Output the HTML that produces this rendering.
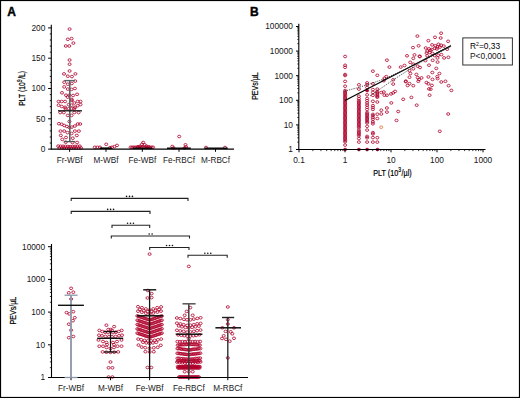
<!DOCTYPE html>
<html><head><meta charset="utf-8"><style>
html,body{margin:0;padding:0;background:#fff;overflow:hidden;width:520px;height:398px;}
svg{display:block;font-family:"Liberation Sans", sans-serif;}
</style></head><body>
<svg width="520" height="398" viewBox="0 0 520 398">
<rect x="0" y="0" width="520" height="398" fill="#fff"/>
<g fill="none" stroke="#b0002a" stroke-width="0.95" stroke-opacity="0.85"><ellipse cx="69.6" cy="29.1" rx="1.55" ry="1.3"/><ellipse cx="67.8" cy="39.3" rx="1.55" ry="1.3"/><ellipse cx="71.6" cy="38.6" rx="1.55" ry="1.3"/><ellipse cx="65.8" cy="46.0" rx="1.55" ry="1.3"/><ellipse cx="69.3" cy="46.0" rx="1.55" ry="1.3"/><ellipse cx="73.4" cy="43.1" rx="1.55" ry="1.3"/><ellipse cx="69.6" cy="60.0" rx="1.55" ry="1.3"/><ellipse cx="69.6" cy="64.2" rx="1.55" ry="1.3"/><ellipse cx="69.6" cy="71.0" rx="1.55" ry="1.3"/><ellipse cx="64.0" cy="73.9" rx="1.55" ry="1.3"/><ellipse cx="67.8" cy="76.2" rx="1.55" ry="1.3"/><ellipse cx="71.9" cy="76.6" rx="1.55" ry="1.3"/><ellipse cx="75.4" cy="73.9" rx="1.55" ry="1.3"/><ellipse cx="64.2" cy="82.2" rx="1.55" ry="1.3"/><ellipse cx="75.2" cy="81.1" rx="1.55" ry="1.3"/><ellipse cx="67.8" cy="84.2" rx="1.55" ry="1.3"/><ellipse cx="71.8" cy="83.5" rx="1.55" ry="1.3"/><ellipse cx="64.2" cy="86.9" rx="1.55" ry="1.3"/><ellipse cx="67.8" cy="89.1" rx="1.55" ry="1.3"/><ellipse cx="71.5" cy="89.4" rx="1.55" ry="1.3"/><ellipse cx="74.9" cy="88.5" rx="1.55" ry="1.3"/><ellipse cx="62.0" cy="92.8" rx="1.55" ry="1.3"/><ellipse cx="66.0" cy="95.2" rx="1.55" ry="1.3"/><ellipse cx="67.7" cy="97.1" rx="1.55" ry="1.3"/><ellipse cx="69.4" cy="95.2" rx="1.55" ry="1.3"/><ellipse cx="73.1" cy="95.5" rx="1.55" ry="1.3"/><ellipse cx="77.1" cy="94.3" rx="1.55" ry="1.3"/><ellipse cx="71.8" cy="99.5" rx="1.55" ry="1.3"/><ellipse cx="58.6" cy="101.5" rx="1.55" ry="1.3"/><ellipse cx="61.7" cy="101.5" rx="1.55" ry="1.3"/><ellipse cx="65.1" cy="101.5" rx="1.55" ry="1.3"/><ellipse cx="71.8" cy="100.4" rx="1.55" ry="1.3"/><ellipse cx="74.3" cy="103.0" rx="1.55" ry="1.3"/><ellipse cx="77.7" cy="101.5" rx="1.55" ry="1.3"/><ellipse cx="80.5" cy="101.5" rx="1.55" ry="1.3"/><ellipse cx="58.6" cy="105.2" rx="1.55" ry="1.3"/><ellipse cx="61.7" cy="106.5" rx="1.55" ry="1.3"/><ellipse cx="65.1" cy="107.3" rx="1.55" ry="1.3"/><ellipse cx="68.8" cy="104.6" rx="1.55" ry="1.3"/><ellipse cx="71.5" cy="105.2" rx="1.55" ry="1.3"/><ellipse cx="75.0" cy="107.3" rx="1.55" ry="1.3"/><ellipse cx="77.7" cy="105.7" rx="1.55" ry="1.3"/><ellipse cx="80.5" cy="104.6" rx="1.55" ry="1.3"/><ellipse cx="65.4" cy="108.6" rx="1.55" ry="1.3"/><ellipse cx="68.8" cy="108.6" rx="1.55" ry="1.3"/><ellipse cx="71.5" cy="108.6" rx="1.55" ry="1.3"/><ellipse cx="74.3" cy="108.6" rx="1.55" ry="1.3"/><ellipse cx="60.2" cy="112.6" rx="1.55" ry="1.3"/><ellipse cx="63.8" cy="112.6" rx="1.55" ry="1.3"/><ellipse cx="74.3" cy="112.6" rx="1.55" ry="1.3"/><ellipse cx="78.6" cy="112.6" rx="1.55" ry="1.3"/><ellipse cx="67.8" cy="115.4" rx="1.55" ry="1.3"/><ellipse cx="71.5" cy="115.4" rx="1.55" ry="1.3"/><ellipse cx="69.4" cy="121.5" rx="1.55" ry="1.3"/><ellipse cx="58.9" cy="123.7" rx="1.55" ry="1.3"/><ellipse cx="61.7" cy="124.3" rx="1.55" ry="1.3"/><ellipse cx="64.2" cy="125.5" rx="1.55" ry="1.3"/><ellipse cx="66.9" cy="126.5" rx="1.55" ry="1.3"/><ellipse cx="69.4" cy="127.4" rx="1.55" ry="1.3"/><ellipse cx="71.8" cy="127.1" rx="1.55" ry="1.3"/><ellipse cx="74.9" cy="126.0" rx="1.55" ry="1.3"/><ellipse cx="77.7" cy="124.0" rx="1.55" ry="1.3"/><ellipse cx="80.2" cy="124.0" rx="1.55" ry="1.3"/><ellipse cx="60.5" cy="131.1" rx="1.55" ry="1.3"/><ellipse cx="64.2" cy="131.1" rx="1.55" ry="1.3"/><ellipse cx="67.5" cy="132.6" rx="1.55" ry="1.3"/><ellipse cx="71.5" cy="133.5" rx="1.55" ry="1.3"/><ellipse cx="74.9" cy="131.1" rx="1.55" ry="1.3"/><ellipse cx="78.9" cy="131.1" rx="1.55" ry="1.3"/><ellipse cx="60.8" cy="135.4" rx="1.55" ry="1.3"/><ellipse cx="66.0" cy="137.5" rx="1.55" ry="1.3"/><ellipse cx="72.8" cy="138.2" rx="1.55" ry="1.3"/><ellipse cx="76.8" cy="135.4" rx="1.55" ry="1.3"/><ellipse cx="62.3" cy="139.4" rx="1.55" ry="1.3"/><ellipse cx="65.7" cy="142.2" rx="1.55" ry="1.3"/><ellipse cx="72.5" cy="142.5" rx="1.55" ry="1.3"/><ellipse cx="77.1" cy="142.5" rx="1.55" ry="1.3"/><ellipse cx="58.2" cy="146.1" rx="1.55" ry="1.3"/><ellipse cx="59.4" cy="148.0" rx="1.55" ry="1.3"/><ellipse cx="60.6" cy="146.2" rx="1.55" ry="1.3"/><ellipse cx="61.8" cy="148.0" rx="1.55" ry="1.3"/><ellipse cx="63.0" cy="146.3" rx="1.55" ry="1.3"/><ellipse cx="64.2" cy="148.0" rx="1.55" ry="1.3"/><ellipse cx="65.4" cy="146.4" rx="1.55" ry="1.3"/><ellipse cx="66.6" cy="148.0" rx="1.55" ry="1.3"/><ellipse cx="67.8" cy="146.5" rx="1.55" ry="1.3"/><ellipse cx="69.0" cy="148.0" rx="1.55" ry="1.3"/><ellipse cx="70.2" cy="146.6" rx="1.55" ry="1.3"/><ellipse cx="71.4" cy="148.0" rx="1.55" ry="1.3"/><ellipse cx="72.6" cy="146.5" rx="1.55" ry="1.3"/><ellipse cx="73.8" cy="148.0" rx="1.55" ry="1.3"/><ellipse cx="75.0" cy="146.4" rx="1.55" ry="1.3"/><ellipse cx="76.2" cy="148.0" rx="1.55" ry="1.3"/><ellipse cx="77.4" cy="146.3" rx="1.55" ry="1.3"/><ellipse cx="78.6" cy="148.0" rx="1.55" ry="1.3"/><ellipse cx="79.8" cy="146.2" rx="1.55" ry="1.3"/><ellipse cx="81.0" cy="148.0" rx="1.55" ry="1.3"/><ellipse cx="94.8" cy="147.3" rx="1.55" ry="1.3"/><ellipse cx="97.4" cy="147.3" rx="1.55" ry="1.3"/><ellipse cx="100.0" cy="147.3" rx="1.55" ry="1.3"/><ellipse cx="106.2" cy="144.3" rx="1.55" ry="1.3"/><ellipse cx="112.0" cy="147.3" rx="1.55" ry="1.3"/><ellipse cx="114.5" cy="146.6" rx="1.55" ry="1.3"/><ellipse cx="117.0" cy="145.4" rx="1.55" ry="1.3"/><ellipse cx="110.0" cy="147.6" rx="1.55" ry="1.3"/><ellipse cx="130.6" cy="147.3" rx="1.55" ry="1.3"/><ellipse cx="132.1" cy="147.3" rx="1.55" ry="1.3"/><ellipse cx="133.6" cy="147.3" rx="1.55" ry="1.3"/><ellipse cx="135.1" cy="147.3" rx="1.55" ry="1.3"/><ellipse cx="136.6" cy="147.3" rx="1.55" ry="1.3"/><ellipse cx="138.1" cy="147.3" rx="1.55" ry="1.3"/><ellipse cx="139.6" cy="147.3" rx="1.55" ry="1.3"/><ellipse cx="141.1" cy="147.3" rx="1.55" ry="1.3"/><ellipse cx="142.6" cy="147.3" rx="1.55" ry="1.3"/><ellipse cx="144.1" cy="147.3" rx="1.55" ry="1.3"/><ellipse cx="145.6" cy="147.3" rx="1.55" ry="1.3"/><ellipse cx="147.1" cy="147.3" rx="1.55" ry="1.3"/><ellipse cx="148.6" cy="147.3" rx="1.55" ry="1.3"/><ellipse cx="150.1" cy="147.3" rx="1.55" ry="1.3"/><ellipse cx="151.6" cy="147.3" rx="1.55" ry="1.3"/><ellipse cx="153.1" cy="147.3" rx="1.55" ry="1.3"/><ellipse cx="143.2" cy="142.5" rx="1.55" ry="1.3"/><ellipse cx="142.0" cy="144.3" rx="1.55" ry="1.3"/><ellipse cx="144.6" cy="144.8" rx="1.55" ry="1.3"/><ellipse cx="140.0" cy="146.3" rx="1.55" ry="1.3"/><ellipse cx="146.5" cy="146.2" rx="1.55" ry="1.3"/><ellipse cx="138.0" cy="146.8" rx="1.55" ry="1.3"/><ellipse cx="148.5" cy="146.8" rx="1.55" ry="1.3"/><ellipse cx="179.2" cy="136.5" rx="1.55" ry="1.3"/><ellipse cx="172.3" cy="146.5" rx="1.55" ry="1.3"/><ellipse cx="173.5" cy="148.0" rx="1.55" ry="1.3"/><ellipse cx="184.5" cy="148.0" rx="1.55" ry="1.3"/><ellipse cx="185.5" cy="144.8" rx="1.55" ry="1.3"/><ellipse cx="186.0" cy="147.0" rx="1.55" ry="1.3"/><ellipse cx="206.0" cy="147.5" rx="1.55" ry="1.3"/><ellipse cx="225.0" cy="147.5" rx="1.55" ry="1.3"/><ellipse cx="417.4" cy="36.1" rx="1.55" ry="1.3"/><ellipse cx="413.0" cy="47.6" rx="1.55" ry="1.3"/><ellipse cx="418.6" cy="45.8" rx="1.55" ry="1.3"/><ellipse cx="407.0" cy="55.8" rx="1.55" ry="1.3"/><ellipse cx="414.5" cy="54.9" rx="1.55" ry="1.3"/><ellipse cx="419.6" cy="56.2" rx="1.55" ry="1.3"/><ellipse cx="413.3" cy="58.3" rx="1.55" ry="1.3"/><ellipse cx="386.9" cy="60.2" rx="1.55" ry="1.3"/><ellipse cx="410.2" cy="62.3" rx="1.55" ry="1.3"/><ellipse cx="413.3" cy="64.2" rx="1.55" ry="1.3"/><ellipse cx="429.0" cy="65.2" rx="1.55" ry="1.3"/><ellipse cx="389.4" cy="67.1" rx="1.55" ry="1.3"/><ellipse cx="400.7" cy="67.1" rx="1.55" ry="1.3"/><ellipse cx="404.5" cy="65.5" rx="1.55" ry="1.3"/><ellipse cx="417.7" cy="66.2" rx="1.55" ry="1.3"/><ellipse cx="420.0" cy="67.5" rx="1.55" ry="1.3"/><ellipse cx="441.1" cy="33.2" rx="1.55" ry="1.3"/><ellipse cx="435.0" cy="37.3" rx="1.55" ry="1.3"/><ellipse cx="440.7" cy="38.0" rx="1.55" ry="1.3"/><ellipse cx="437.6" cy="62.1" rx="1.55" ry="1.3"/><ellipse cx="436.3" cy="68.4" rx="1.55" ry="1.3"/><ellipse cx="409.5" cy="70.7" rx="1.55" ry="1.3"/><ellipse cx="413.3" cy="68.8" rx="1.55" ry="1.3"/><ellipse cx="410.4" cy="73.5" rx="1.55" ry="1.3"/><ellipse cx="416.4" cy="74.4" rx="1.55" ry="1.3"/><ellipse cx="409.5" cy="77.2" rx="1.55" ry="1.3"/><ellipse cx="417.7" cy="77.6" rx="1.55" ry="1.3"/><ellipse cx="421.5" cy="77.9" rx="1.55" ry="1.3"/><ellipse cx="419.0" cy="79.4" rx="1.55" ry="1.3"/><ellipse cx="418.3" cy="81.3" rx="1.55" ry="1.3"/><ellipse cx="428.4" cy="76.9" rx="1.55" ry="1.3"/><ellipse cx="426.5" cy="82.6" rx="1.55" ry="1.3"/><ellipse cx="428.4" cy="83.8" rx="1.55" ry="1.3"/><ellipse cx="384.4" cy="78.2" rx="1.55" ry="1.3"/><ellipse cx="386.3" cy="76.6" rx="1.55" ry="1.3"/><ellipse cx="383.8" cy="80.7" rx="1.55" ry="1.3"/><ellipse cx="393.2" cy="79.8" rx="1.55" ry="1.3"/><ellipse cx="393.2" cy="84.1" rx="1.55" ry="1.3"/><ellipse cx="405.8" cy="81.1" rx="1.55" ry="1.3"/><ellipse cx="409.5" cy="83.6" rx="1.55" ry="1.3"/><ellipse cx="407.6" cy="85.5" rx="1.55" ry="1.3"/><ellipse cx="413.3" cy="85.7" rx="1.55" ry="1.3"/><ellipse cx="429.0" cy="88.9" rx="1.55" ry="1.3"/><ellipse cx="383.8" cy="92.0" rx="1.55" ry="1.3"/><ellipse cx="384.4" cy="95.2" rx="1.55" ry="1.3"/><ellipse cx="386.9" cy="95.2" rx="1.55" ry="1.3"/><ellipse cx="391.0" cy="93.9" rx="1.55" ry="1.3"/><ellipse cx="393.2" cy="92.9" rx="1.55" ry="1.3"/><ellipse cx="395.1" cy="91.4" rx="1.55" ry="1.3"/><ellipse cx="411.4" cy="97.4" rx="1.55" ry="1.3"/><ellipse cx="403.2" cy="99.3" rx="1.55" ry="1.3"/><ellipse cx="429.6" cy="95.2" rx="1.55" ry="1.3"/><ellipse cx="391.3" cy="102.9" rx="1.55" ry="1.3"/><ellipse cx="416.7" cy="105.2" rx="1.55" ry="1.3"/><ellipse cx="386.9" cy="108.0" rx="1.55" ry="1.3"/><ellipse cx="381.3" cy="110.2" rx="1.55" ry="1.3"/><ellipse cx="386.9" cy="112.1" rx="1.55" ry="1.3"/><ellipse cx="398.2" cy="111.5" rx="1.55" ry="1.3"/><ellipse cx="381.3" cy="114.0" rx="1.55" ry="1.3"/><ellipse cx="432.3" cy="72.5" rx="1.55" ry="1.3"/><ellipse cx="439.4" cy="73.5" rx="1.55" ry="1.3"/><ellipse cx="437.3" cy="76.6" rx="1.55" ry="1.3"/><ellipse cx="437.6" cy="78.6" rx="1.55" ry="1.3"/><ellipse cx="432.5" cy="79.4" rx="1.55" ry="1.3"/><ellipse cx="441.3" cy="82.0" rx="1.55" ry="1.3"/><ellipse cx="445.4" cy="81.3" rx="1.55" ry="1.3"/><ellipse cx="431.9" cy="85.4" rx="1.55" ry="1.3"/><ellipse cx="448.6" cy="85.7" rx="1.55" ry="1.3"/><ellipse cx="430.7" cy="89.2" rx="1.55" ry="1.3"/><ellipse cx="451.4" cy="90.4" rx="1.55" ry="1.3"/><ellipse cx="448.2" cy="114.0" rx="1.55" ry="1.3"/><ellipse cx="377.3" cy="114.2" rx="1.55" ry="1.3"/><ellipse cx="377.3" cy="118.5" rx="1.55" ry="1.3"/><ellipse cx="396.5" cy="120.4" rx="1.55" ry="1.3"/><ellipse cx="439.8" cy="131.3" rx="1.55" ry="1.3"/><ellipse cx="377.3" cy="137.7" rx="1.55" ry="1.3"/><ellipse cx="377.3" cy="142.1" rx="1.55" ry="1.3"/><ellipse cx="381.4" cy="92.5" rx="1.55" ry="1.3"/><ellipse cx="428.4" cy="40.7" rx="1.55" ry="1.3"/><ellipse cx="448.1" cy="41.3" rx="1.55" ry="1.3"/><ellipse cx="432.1" cy="44.9" rx="1.55" ry="1.3"/><ellipse cx="435.4" cy="45.8" rx="1.55" ry="1.3"/><ellipse cx="438.4" cy="44.3" rx="1.55" ry="1.3"/><ellipse cx="441.1" cy="45.2" rx="1.55" ry="1.3"/><ellipse cx="443.8" cy="46.1" rx="1.55" ry="1.3"/><ellipse cx="437.5" cy="46.8" rx="1.55" ry="1.3"/><ellipse cx="439.9" cy="47.1" rx="1.55" ry="1.3"/><ellipse cx="425.7" cy="48.0" rx="1.55" ry="1.3"/><ellipse cx="429.0" cy="48.9" rx="1.55" ry="1.3"/><ellipse cx="431.8" cy="49.5" rx="1.55" ry="1.3"/><ellipse cx="434.8" cy="48.3" rx="1.55" ry="1.3"/><ellipse cx="436.9" cy="48.9" rx="1.55" ry="1.3"/><ellipse cx="447.2" cy="49.2" rx="1.55" ry="1.3"/><ellipse cx="427.2" cy="51.0" rx="1.55" ry="1.3"/><ellipse cx="430.3" cy="50.4" rx="1.55" ry="1.3"/><ellipse cx="426.6" cy="53.1" rx="1.55" ry="1.3"/><ellipse cx="429.7" cy="52.5" rx="1.55" ry="1.3"/><ellipse cx="432.4" cy="53.4" rx="1.55" ry="1.3"/><ellipse cx="427.2" cy="55.8" rx="1.55" ry="1.3"/><ellipse cx="434.5" cy="55.5" rx="1.55" ry="1.3"/><ellipse cx="438.1" cy="55.2" rx="1.55" ry="1.3"/><ellipse cx="441.4" cy="54.6" rx="1.55" ry="1.3"/><ellipse cx="437.5" cy="57.9" rx="1.55" ry="1.3"/><ellipse cx="444.1" cy="57.9" rx="1.55" ry="1.3"/><ellipse cx="448.4" cy="57.3" rx="1.55" ry="1.3"/><ellipse cx="425.4" cy="60.6" rx="1.55" ry="1.3"/><ellipse cx="432.7" cy="60.3" rx="1.55" ry="1.3"/><ellipse cx="419.9" cy="56.6" rx="1.55" ry="1.3"/><ellipse cx="405.8" cy="81.7" rx="1.55" ry="1.3"/><ellipse cx="381.2" cy="127.2" rx="1.55" ry="1.3" stroke="#e07030"/><ellipse cx="345.1" cy="56.5" rx="1.55" ry="1.3"/><ellipse cx="345.1" cy="65.3" rx="1.55" ry="1.3"/><ellipse cx="345.1" cy="67.3" rx="1.55" ry="1.3"/><ellipse cx="345.1" cy="74.5" rx="1.55" ry="1.3"/><ellipse cx="345.1" cy="75.5" rx="1.55" ry="1.3"/><ellipse cx="345.1" cy="81.4" rx="1.55" ry="1.3"/><ellipse cx="345.1" cy="86.2" rx="1.55" ry="1.3"/><ellipse cx="345.1" cy="90.5" rx="1.55" ry="1.3"/><ellipse cx="345.1" cy="91.8" rx="1.55" ry="1.3"/><ellipse cx="345.1" cy="93.0" rx="1.55" ry="1.3"/><ellipse cx="345.1" cy="94.2" rx="1.55" ry="1.3"/><ellipse cx="345.1" cy="95.5" rx="1.55" ry="1.3"/><ellipse cx="345.1" cy="96.8" rx="1.55" ry="1.3"/><ellipse cx="345.1" cy="98.0" rx="1.55" ry="1.3"/><ellipse cx="345.1" cy="99.2" rx="1.55" ry="1.3"/><ellipse cx="345.1" cy="100.5" rx="1.55" ry="1.3"/><ellipse cx="345.1" cy="101.8" rx="1.55" ry="1.3"/><ellipse cx="345.1" cy="103.0" rx="1.55" ry="1.3"/><ellipse cx="345.1" cy="104.2" rx="1.55" ry="1.3"/><ellipse cx="345.1" cy="105.5" rx="1.55" ry="1.3"/><ellipse cx="345.1" cy="106.8" rx="1.55" ry="1.3"/><ellipse cx="345.1" cy="108.0" rx="1.55" ry="1.3"/><ellipse cx="345.1" cy="109.2" rx="1.55" ry="1.3"/><ellipse cx="345.1" cy="110.5" rx="1.55" ry="1.3"/><ellipse cx="345.1" cy="111.8" rx="1.55" ry="1.3"/><ellipse cx="345.1" cy="113.0" rx="1.55" ry="1.3"/><ellipse cx="345.1" cy="114.2" rx="1.55" ry="1.3"/><ellipse cx="345.1" cy="115.5" rx="1.55" ry="1.3"/><ellipse cx="345.1" cy="116.8" rx="1.55" ry="1.3"/><ellipse cx="345.1" cy="118.0" rx="1.55" ry="1.3"/><ellipse cx="345.1" cy="119.2" rx="1.55" ry="1.3"/><ellipse cx="345.1" cy="120.5" rx="1.55" ry="1.3"/><ellipse cx="345.1" cy="121.8" rx="1.55" ry="1.3"/><ellipse cx="345.1" cy="123.0" rx="1.55" ry="1.3"/><ellipse cx="345.1" cy="124.2" rx="1.55" ry="1.3"/><ellipse cx="345.1" cy="125.5" rx="1.55" ry="1.3"/><ellipse cx="345.1" cy="126.8" rx="1.55" ry="1.3"/><ellipse cx="345.1" cy="128.0" rx="1.55" ry="1.3"/><ellipse cx="345.1" cy="129.2" rx="1.55" ry="1.3"/><ellipse cx="345.1" cy="130.5" rx="1.55" ry="1.3"/><ellipse cx="345.1" cy="131.8" rx="1.55" ry="1.3"/><ellipse cx="345.1" cy="133.0" rx="1.55" ry="1.3"/><ellipse cx="345.1" cy="134.2" rx="1.55" ry="1.3"/><ellipse cx="345.1" cy="135.5" rx="1.55" ry="1.3"/><ellipse cx="345.1" cy="136.8" rx="1.55" ry="1.3"/><ellipse cx="345.1" cy="138.0" rx="1.55" ry="1.3"/><ellipse cx="345.1" cy="139.2" rx="1.55" ry="1.3"/><ellipse cx="345.1" cy="140.5" rx="1.55" ry="1.3"/><ellipse cx="345.1" cy="141.8" rx="1.55" ry="1.3"/><ellipse cx="345.1" cy="145.1" rx="1.55" ry="1.3"/><ellipse cx="345.1" cy="149.5" rx="1.55" ry="1.3" fill="#b0002a"/><ellipse cx="358.9" cy="84.8" rx="1.55" ry="1.3"/><ellipse cx="358.9" cy="89.1" rx="1.55" ry="1.3"/><ellipse cx="358.9" cy="96.2" rx="1.55" ry="1.3"/><ellipse cx="358.9" cy="98.6" rx="1.55" ry="1.3"/><ellipse cx="358.9" cy="100.5" rx="1.55" ry="1.3"/><ellipse cx="358.9" cy="101.8" rx="1.55" ry="1.3"/><ellipse cx="358.9" cy="103.1" rx="1.55" ry="1.3"/><ellipse cx="358.9" cy="104.4" rx="1.55" ry="1.3"/><ellipse cx="358.9" cy="105.7" rx="1.55" ry="1.3"/><ellipse cx="358.9" cy="107.0" rx="1.55" ry="1.3"/><ellipse cx="358.9" cy="108.3" rx="1.55" ry="1.3"/><ellipse cx="358.9" cy="109.6" rx="1.55" ry="1.3"/><ellipse cx="358.9" cy="110.9" rx="1.55" ry="1.3"/><ellipse cx="358.9" cy="112.2" rx="1.55" ry="1.3"/><ellipse cx="358.9" cy="113.5" rx="1.55" ry="1.3"/><ellipse cx="358.9" cy="114.8" rx="1.55" ry="1.3"/><ellipse cx="358.9" cy="116.1" rx="1.55" ry="1.3"/><ellipse cx="358.9" cy="117.4" rx="1.55" ry="1.3"/><ellipse cx="358.9" cy="118.7" rx="1.55" ry="1.3"/><ellipse cx="358.9" cy="120.0" rx="1.55" ry="1.3"/><ellipse cx="358.9" cy="121.3" rx="1.55" ry="1.3"/><ellipse cx="358.9" cy="122.6" rx="1.55" ry="1.3"/><ellipse cx="358.9" cy="123.9" rx="1.55" ry="1.3"/><ellipse cx="358.9" cy="125.2" rx="1.55" ry="1.3"/><ellipse cx="358.9" cy="126.5" rx="1.55" ry="1.3"/><ellipse cx="358.9" cy="127.8" rx="1.55" ry="1.3"/><ellipse cx="358.9" cy="130.2" rx="1.55" ry="1.3"/><ellipse cx="358.9" cy="131.8" rx="1.55" ry="1.3"/><ellipse cx="358.9" cy="133.1" rx="1.55" ry="1.3"/><ellipse cx="358.9" cy="134.4" rx="1.55" ry="1.3"/><ellipse cx="358.9" cy="135.7" rx="1.55" ry="1.3"/><ellipse cx="358.9" cy="138.6" rx="1.55" ry="1.3"/><ellipse cx="358.9" cy="142.1" rx="1.55" ry="1.3"/><ellipse cx="358.9" cy="149.5" rx="1.55" ry="1.3" fill="#b0002a"/><ellipse cx="367.1" cy="82.9" rx="1.55" ry="1.3"/><ellipse cx="367.1" cy="84.8" rx="1.55" ry="1.3"/><ellipse cx="367.1" cy="87.5" rx="1.55" ry="1.3"/><ellipse cx="367.1" cy="94.8" rx="1.55" ry="1.3"/><ellipse cx="367.1" cy="98.5" rx="1.55" ry="1.3"/><ellipse cx="367.1" cy="100.6" rx="1.55" ry="1.3"/><ellipse cx="367.1" cy="102.9" rx="1.55" ry="1.3"/><ellipse cx="367.1" cy="105.1" rx="1.55" ry="1.3"/><ellipse cx="367.1" cy="107.4" rx="1.55" ry="1.3"/><ellipse cx="367.1" cy="109.5" rx="1.55" ry="1.3"/><ellipse cx="367.1" cy="112.5" rx="1.55" ry="1.3"/><ellipse cx="367.1" cy="113.8" rx="1.55" ry="1.3"/><ellipse cx="367.1" cy="115.1" rx="1.55" ry="1.3"/><ellipse cx="367.1" cy="116.4" rx="1.55" ry="1.3"/><ellipse cx="367.1" cy="117.7" rx="1.55" ry="1.3"/><ellipse cx="367.1" cy="119.0" rx="1.55" ry="1.3"/><ellipse cx="367.1" cy="120.3" rx="1.55" ry="1.3"/><ellipse cx="367.1" cy="121.6" rx="1.55" ry="1.3"/><ellipse cx="367.1" cy="122.9" rx="1.55" ry="1.3"/><ellipse cx="367.1" cy="126.3" rx="1.55" ry="1.3"/><ellipse cx="367.1" cy="130.1" rx="1.55" ry="1.3"/><ellipse cx="367.1" cy="136.4" rx="1.55" ry="1.3"/><ellipse cx="367.1" cy="137.8" rx="1.55" ry="1.3"/><ellipse cx="367.1" cy="142.1" rx="1.55" ry="1.3"/><ellipse cx="367.1" cy="90.6" rx="1.55" ry="1.3" fill="#b0002a"/><ellipse cx="367.1" cy="149.5" rx="1.55" ry="1.3" fill="#b0002a"/><ellipse cx="372.9" cy="71.2" rx="1.55" ry="1.3"/><ellipse cx="372.9" cy="83.8" rx="1.55" ry="1.3"/><ellipse cx="372.9" cy="89.6" rx="1.55" ry="1.3"/><ellipse cx="372.9" cy="92.4" rx="1.55" ry="1.3"/><ellipse cx="372.9" cy="95.3" rx="1.55" ry="1.3"/><ellipse cx="372.9" cy="101.3" rx="1.55" ry="1.3"/><ellipse cx="372.9" cy="105.6" rx="1.55" ry="1.3"/><ellipse cx="372.9" cy="107.5" rx="1.55" ry="1.3"/><ellipse cx="372.9" cy="109.4" rx="1.55" ry="1.3"/><ellipse cx="372.9" cy="114.4" rx="1.55" ry="1.3"/><ellipse cx="372.9" cy="115.7" rx="1.55" ry="1.3"/><ellipse cx="372.9" cy="117.6" rx="1.55" ry="1.3"/><ellipse cx="372.9" cy="119.4" rx="1.55" ry="1.3"/><ellipse cx="372.9" cy="122.0" rx="1.55" ry="1.3"/><ellipse cx="372.9" cy="123.8" rx="1.55" ry="1.3"/><ellipse cx="372.9" cy="132.6" rx="1.55" ry="1.3"/><ellipse cx="372.9" cy="133.9" rx="1.55" ry="1.3"/><ellipse cx="372.9" cy="137.6" rx="1.55" ry="1.3"/><ellipse cx="372.9" cy="142.1" rx="1.55" ry="1.3"/><ellipse cx="377.3" cy="75.3" rx="1.55" ry="1.3"/><ellipse cx="377.3" cy="89.1" rx="1.55" ry="1.3"/><ellipse cx="377.3" cy="91.5" rx="1.55" ry="1.3"/><ellipse cx="377.3" cy="92.7" rx="1.55" ry="1.3"/><ellipse cx="377.3" cy="94.0" rx="1.55" ry="1.3"/><ellipse cx="377.3" cy="95.3" rx="1.55" ry="1.3"/><ellipse cx="377.3" cy="96.5" rx="1.55" ry="1.3"/><ellipse cx="377.3" cy="97.2" rx="1.55" ry="1.3"/><ellipse cx="377.3" cy="102.0" rx="1.55" ry="1.3"/><ellipse cx="377.5" cy="149.5" rx="1.55" ry="1.3" fill="#b0002a"/><ellipse cx="71.1" cy="288.3" rx="1.55" ry="1.3"/><ellipse cx="68.8" cy="292.8" rx="1.55" ry="1.3"/><ellipse cx="73.3" cy="292.2" rx="1.55" ry="1.3"/><ellipse cx="71.1" cy="299.0" rx="1.55" ry="1.3"/><ellipse cx="66.6" cy="312.6" rx="1.55" ry="1.3"/><ellipse cx="69.3" cy="313.9" rx="1.55" ry="1.3"/><ellipse cx="73.3" cy="311.7" rx="1.55" ry="1.3"/><ellipse cx="74.8" cy="317.7" rx="1.55" ry="1.3"/><ellipse cx="72.9" cy="320.7" rx="1.55" ry="1.3"/><ellipse cx="68.8" cy="324.2" rx="1.55" ry="1.3"/><ellipse cx="71.1" cy="330.2" rx="1.55" ry="1.3"/><ellipse cx="68.8" cy="337.7" rx="1.55" ry="1.3"/><ellipse cx="73.3" cy="336.5" rx="1.55" ry="1.3"/><ellipse cx="106.4" cy="325.2" rx="1.55" ry="1.3"/><ellipse cx="114.1" cy="326.6" rx="1.55" ry="1.3"/><ellipse cx="108.3" cy="329.5" rx="1.55" ry="1.3"/><ellipse cx="110.7" cy="329.5" rx="1.55" ry="1.3"/><ellipse cx="112.1" cy="330.4" rx="1.55" ry="1.3"/><ellipse cx="99.3" cy="330.4" rx="1.55" ry="1.3"/><ellipse cx="102.3" cy="331.5" rx="1.55" ry="1.3"/><ellipse cx="105.0" cy="332.2" rx="1.55" ry="1.3"/><ellipse cx="108.0" cy="332.6" rx="1.55" ry="1.3"/><ellipse cx="113.0" cy="332.6" rx="1.55" ry="1.3"/><ellipse cx="116.0" cy="332.2" rx="1.55" ry="1.3"/><ellipse cx="118.8" cy="331.5" rx="1.55" ry="1.3"/><ellipse cx="121.7" cy="330.4" rx="1.55" ry="1.3"/><ellipse cx="99.0" cy="335.2" rx="1.55" ry="1.3"/><ellipse cx="102.0" cy="335.8" rx="1.55" ry="1.3"/><ellipse cx="105.5" cy="336.4" rx="1.55" ry="1.3"/><ellipse cx="109.0" cy="336.8" rx="1.55" ry="1.3"/><ellipse cx="112.0" cy="336.8" rx="1.55" ry="1.3"/><ellipse cx="115.5" cy="336.4" rx="1.55" ry="1.3"/><ellipse cx="119.0" cy="335.8" rx="1.55" ry="1.3"/><ellipse cx="122.0" cy="335.2" rx="1.55" ry="1.3"/><ellipse cx="98.5" cy="340.0" rx="1.55" ry="1.3"/><ellipse cx="103.0" cy="341.5" rx="1.55" ry="1.3"/><ellipse cx="106.5" cy="342.5" rx="1.55" ry="1.3"/><ellipse cx="113.0" cy="342.5" rx="1.55" ry="1.3"/><ellipse cx="117.0" cy="341.5" rx="1.55" ry="1.3"/><ellipse cx="121.5" cy="340.0" rx="1.55" ry="1.3"/><ellipse cx="107.0" cy="344.6" rx="1.55" ry="1.3"/><ellipse cx="114.0" cy="344.6" rx="1.55" ry="1.3"/><ellipse cx="99.3" cy="346.2" rx="1.55" ry="1.3"/><ellipse cx="103.0" cy="346.2" rx="1.55" ry="1.3"/><ellipse cx="106.5" cy="347.5" rx="1.55" ry="1.3"/><ellipse cx="110.5" cy="348.5" rx="1.55" ry="1.3"/><ellipse cx="114.0" cy="347.5" rx="1.55" ry="1.3"/><ellipse cx="117.5" cy="346.2" rx="1.55" ry="1.3"/><ellipse cx="121.5" cy="346.2" rx="1.55" ry="1.3"/><ellipse cx="102.6" cy="351.9" rx="1.55" ry="1.3"/><ellipse cx="106.4" cy="352.2" rx="1.55" ry="1.3"/><ellipse cx="110.5" cy="352.4" rx="1.55" ry="1.3"/><ellipse cx="114.2" cy="352.2" rx="1.55" ry="1.3"/><ellipse cx="118.2" cy="351.9" rx="1.55" ry="1.3"/><ellipse cx="110.5" cy="362.0" rx="1.55" ry="1.3"/><ellipse cx="108.6" cy="367.8" rx="1.55" ry="1.3"/><ellipse cx="112.4" cy="367.8" rx="1.55" ry="1.3"/><ellipse cx="108.6" cy="377.0" rx="1.55" ry="1.3"/><ellipse cx="112.4" cy="377.0" rx="1.55" ry="1.3"/><ellipse cx="149.6" cy="254.1" rx="1.55" ry="1.3"/><ellipse cx="147.8" cy="290.5" rx="1.55" ry="1.3"/><ellipse cx="151.6" cy="293.6" rx="1.55" ry="1.3"/><ellipse cx="147.5" cy="298.0" rx="1.55" ry="1.3"/><ellipse cx="151.6" cy="297.6" rx="1.55" ry="1.3"/><ellipse cx="138.0" cy="306.7" rx="1.55" ry="1.3"/><ellipse cx="141.9" cy="307.7" rx="1.55" ry="1.3"/><ellipse cx="145.8" cy="308.9" rx="1.55" ry="1.3"/><ellipse cx="149.5" cy="310.0" rx="1.55" ry="1.3"/><ellipse cx="153.3" cy="308.9" rx="1.55" ry="1.3"/><ellipse cx="157.2" cy="307.7" rx="1.55" ry="1.3"/><ellipse cx="161.1" cy="306.9" rx="1.55" ry="1.3"/><ellipse cx="139.9" cy="309.4" rx="1.55" ry="1.3"/><ellipse cx="143.8" cy="310.7" rx="1.55" ry="1.3"/><ellipse cx="147.7" cy="311.6" rx="1.55" ry="1.3"/><ellipse cx="151.6" cy="311.5" rx="1.55" ry="1.3"/><ellipse cx="155.5" cy="310.5" rx="1.55" ry="1.3"/><ellipse cx="159.1" cy="309.4" rx="1.55" ry="1.3"/><ellipse cx="138.0" cy="311.2" rx="1.55" ry="1.3"/><ellipse cx="141.8" cy="312.2" rx="1.55" ry="1.3"/><ellipse cx="145.8" cy="313.2" rx="1.55" ry="1.3"/><ellipse cx="149.6" cy="314.2" rx="1.55" ry="1.3"/><ellipse cx="153.3" cy="313.1" rx="1.55" ry="1.3"/><ellipse cx="157.4" cy="312.1" rx="1.55" ry="1.3"/><ellipse cx="161.0" cy="311.1" rx="1.55" ry="1.3"/><ellipse cx="137.3" cy="315.9" rx="1.55" ry="1.3"/><ellipse cx="138.5" cy="316.3" rx="1.55" ry="1.3"/><ellipse cx="139.6" cy="316.7" rx="1.55" ry="1.3"/><ellipse cx="140.8" cy="317.1" rx="1.55" ry="1.3"/><ellipse cx="142.0" cy="317.5" rx="1.55" ry="1.3"/><ellipse cx="143.2" cy="317.8" rx="1.55" ry="1.3"/><ellipse cx="144.3" cy="318.3" rx="1.55" ry="1.3"/><ellipse cx="145.5" cy="318.6" rx="1.55" ry="1.3"/><ellipse cx="146.6" cy="319.1" rx="1.55" ry="1.3"/><ellipse cx="147.9" cy="319.4" rx="1.55" ry="1.3"/><ellipse cx="149.1" cy="319.8" rx="1.55" ry="1.3"/><ellipse cx="150.2" cy="319.8" rx="1.55" ry="1.3"/><ellipse cx="151.4" cy="319.4" rx="1.55" ry="1.3"/><ellipse cx="152.6" cy="319.1" rx="1.55" ry="1.3"/><ellipse cx="153.7" cy="318.7" rx="1.55" ry="1.3"/><ellipse cx="154.8" cy="318.3" rx="1.55" ry="1.3"/><ellipse cx="156.1" cy="317.9" rx="1.55" ry="1.3"/><ellipse cx="157.2" cy="317.5" rx="1.55" ry="1.3"/><ellipse cx="158.4" cy="317.1" rx="1.55" ry="1.3"/><ellipse cx="159.5" cy="316.7" rx="1.55" ry="1.3"/><ellipse cx="160.7" cy="316.3" rx="1.55" ry="1.3"/><ellipse cx="161.9" cy="316.0" rx="1.55" ry="1.3"/><ellipse cx="137.3" cy="320.2" rx="1.55" ry="1.3"/><ellipse cx="138.5" cy="320.7" rx="1.55" ry="1.3"/><ellipse cx="139.6" cy="321.0" rx="1.55" ry="1.3"/><ellipse cx="140.8" cy="321.4" rx="1.55" ry="1.3"/><ellipse cx="142.0" cy="321.8" rx="1.55" ry="1.3"/><ellipse cx="143.1" cy="322.2" rx="1.55" ry="1.3"/><ellipse cx="144.3" cy="322.6" rx="1.55" ry="1.3"/><ellipse cx="145.5" cy="322.9" rx="1.55" ry="1.3"/><ellipse cx="146.6" cy="323.3" rx="1.55" ry="1.3"/><ellipse cx="147.8" cy="323.7" rx="1.55" ry="1.3"/><ellipse cx="149.0" cy="324.1" rx="1.55" ry="1.3"/><ellipse cx="150.1" cy="324.1" rx="1.55" ry="1.3"/><ellipse cx="151.3" cy="323.7" rx="1.55" ry="1.3"/><ellipse cx="152.6" cy="323.4" rx="1.55" ry="1.3"/><ellipse cx="153.7" cy="323.0" rx="1.55" ry="1.3"/><ellipse cx="154.9" cy="322.5" rx="1.55" ry="1.3"/><ellipse cx="156.1" cy="322.2" rx="1.55" ry="1.3"/><ellipse cx="157.3" cy="321.8" rx="1.55" ry="1.3"/><ellipse cx="158.4" cy="321.4" rx="1.55" ry="1.3"/><ellipse cx="159.5" cy="321.0" rx="1.55" ry="1.3"/><ellipse cx="160.7" cy="320.6" rx="1.55" ry="1.3"/><ellipse cx="161.9" cy="320.2" rx="1.55" ry="1.3"/><ellipse cx="137.3" cy="324.5" rx="1.55" ry="1.3"/><ellipse cx="138.4" cy="324.9" rx="1.55" ry="1.3"/><ellipse cx="139.6" cy="325.3" rx="1.55" ry="1.3"/><ellipse cx="140.8" cy="325.7" rx="1.55" ry="1.3"/><ellipse cx="142.0" cy="326.1" rx="1.55" ry="1.3"/><ellipse cx="143.1" cy="326.5" rx="1.55" ry="1.3"/><ellipse cx="144.3" cy="326.8" rx="1.55" ry="1.3"/><ellipse cx="145.5" cy="327.3" rx="1.55" ry="1.3"/><ellipse cx="146.7" cy="327.6" rx="1.55" ry="1.3"/><ellipse cx="147.8" cy="328.0" rx="1.55" ry="1.3"/><ellipse cx="149.0" cy="328.4" rx="1.55" ry="1.3"/><ellipse cx="150.2" cy="328.4" rx="1.55" ry="1.3"/><ellipse cx="151.3" cy="328.1" rx="1.55" ry="1.3"/><ellipse cx="152.5" cy="327.6" rx="1.55" ry="1.3"/><ellipse cx="153.7" cy="327.2" rx="1.55" ry="1.3"/><ellipse cx="154.9" cy="326.9" rx="1.55" ry="1.3"/><ellipse cx="156.1" cy="326.5" rx="1.55" ry="1.3"/><ellipse cx="157.2" cy="326.1" rx="1.55" ry="1.3"/><ellipse cx="158.4" cy="325.7" rx="1.55" ry="1.3"/><ellipse cx="159.6" cy="325.3" rx="1.55" ry="1.3"/><ellipse cx="160.7" cy="324.9" rx="1.55" ry="1.3"/><ellipse cx="161.9" cy="324.6" rx="1.55" ry="1.3"/><ellipse cx="137.3" cy="328.9" rx="1.55" ry="1.3"/><ellipse cx="138.5" cy="329.3" rx="1.55" ry="1.3"/><ellipse cx="139.6" cy="329.6" rx="1.55" ry="1.3"/><ellipse cx="140.8" cy="330.0" rx="1.55" ry="1.3"/><ellipse cx="141.9" cy="330.4" rx="1.55" ry="1.3"/><ellipse cx="143.1" cy="330.8" rx="1.55" ry="1.3"/><ellipse cx="144.4" cy="331.2" rx="1.55" ry="1.3"/><ellipse cx="145.5" cy="331.6" rx="1.55" ry="1.3"/><ellipse cx="146.7" cy="331.9" rx="1.55" ry="1.3"/><ellipse cx="147.8" cy="332.3" rx="1.55" ry="1.3"/><ellipse cx="149.0" cy="332.7" rx="1.55" ry="1.3"/><ellipse cx="150.2" cy="332.7" rx="1.55" ry="1.3"/><ellipse cx="151.4" cy="332.3" rx="1.55" ry="1.3"/><ellipse cx="152.5" cy="332.0" rx="1.55" ry="1.3"/><ellipse cx="153.7" cy="331.6" rx="1.55" ry="1.3"/><ellipse cx="154.9" cy="331.2" rx="1.55" ry="1.3"/><ellipse cx="156.1" cy="330.8" rx="1.55" ry="1.3"/><ellipse cx="157.2" cy="330.4" rx="1.55" ry="1.3"/><ellipse cx="158.4" cy="330.0" rx="1.55" ry="1.3"/><ellipse cx="159.6" cy="329.6" rx="1.55" ry="1.3"/><ellipse cx="160.7" cy="329.3" rx="1.55" ry="1.3"/><ellipse cx="161.9" cy="328.8" rx="1.55" ry="1.3"/><ellipse cx="137.3" cy="333.1" rx="1.55" ry="1.3"/><ellipse cx="138.5" cy="333.6" rx="1.55" ry="1.3"/><ellipse cx="139.6" cy="333.9" rx="1.55" ry="1.3"/><ellipse cx="140.9" cy="334.3" rx="1.55" ry="1.3"/><ellipse cx="142.0" cy="334.7" rx="1.55" ry="1.3"/><ellipse cx="143.1" cy="335.0" rx="1.55" ry="1.3"/><ellipse cx="144.4" cy="335.5" rx="1.55" ry="1.3"/><ellipse cx="145.5" cy="335.9" rx="1.55" ry="1.3"/><ellipse cx="146.7" cy="336.3" rx="1.55" ry="1.3"/><ellipse cx="147.9" cy="336.6" rx="1.55" ry="1.3"/><ellipse cx="149.0" cy="337.0" rx="1.55" ry="1.3"/><ellipse cx="150.2" cy="337.0" rx="1.55" ry="1.3"/><ellipse cx="151.3" cy="336.6" rx="1.55" ry="1.3"/><ellipse cx="152.5" cy="336.3" rx="1.55" ry="1.3"/><ellipse cx="153.7" cy="335.8" rx="1.55" ry="1.3"/><ellipse cx="154.9" cy="335.5" rx="1.55" ry="1.3"/><ellipse cx="156.0" cy="335.1" rx="1.55" ry="1.3"/><ellipse cx="157.2" cy="334.7" rx="1.55" ry="1.3"/><ellipse cx="158.4" cy="334.3" rx="1.55" ry="1.3"/><ellipse cx="159.6" cy="333.9" rx="1.55" ry="1.3"/><ellipse cx="160.7" cy="333.6" rx="1.55" ry="1.3"/><ellipse cx="161.9" cy="333.1" rx="1.55" ry="1.3"/><ellipse cx="138.2" cy="339.1" rx="1.55" ry="1.3"/><ellipse cx="141.2" cy="339.7" rx="1.55" ry="1.3"/><ellipse cx="144.6" cy="340.4" rx="1.55" ry="1.3"/><ellipse cx="147.8" cy="340.9" rx="1.55" ry="1.3"/><ellipse cx="151.2" cy="340.8" rx="1.55" ry="1.3"/><ellipse cx="154.7" cy="340.3" rx="1.55" ry="1.3"/><ellipse cx="157.9" cy="339.8" rx="1.55" ry="1.3"/><ellipse cx="161.2" cy="339.1" rx="1.55" ry="1.3"/><ellipse cx="143.0" cy="342.2" rx="1.55" ry="1.3"/><ellipse cx="146.3" cy="342.9" rx="1.55" ry="1.3"/><ellipse cx="149.6" cy="343.4" rx="1.55" ry="1.3"/><ellipse cx="152.9" cy="342.9" rx="1.55" ry="1.3"/><ellipse cx="156.3" cy="342.3" rx="1.55" ry="1.3"/><ellipse cx="138.5" cy="345.1" rx="1.55" ry="1.3"/><ellipse cx="160.8" cy="345.3" rx="1.55" ry="1.3"/><ellipse cx="141.7" cy="347.1" rx="1.55" ry="1.3"/><ellipse cx="145.2" cy="347.7" rx="1.55" ry="1.3"/><ellipse cx="149.5" cy="348.3" rx="1.55" ry="1.3"/><ellipse cx="153.8" cy="347.8" rx="1.55" ry="1.3"/><ellipse cx="157.7" cy="347.3" rx="1.55" ry="1.3"/><ellipse cx="145.4" cy="351.7" rx="1.55" ry="1.3"/><ellipse cx="149.6" cy="351.9" rx="1.55" ry="1.3"/><ellipse cx="153.8" cy="351.7" rx="1.55" ry="1.3"/><ellipse cx="147.5" cy="367.5" rx="1.55" ry="1.3"/><ellipse cx="151.3" cy="367.5" rx="1.55" ry="1.3"/><ellipse cx="188.8" cy="266.4" rx="1.55" ry="1.3"/><ellipse cx="190.3" cy="307.6" rx="1.55" ry="1.3"/><ellipse cx="186.7" cy="311.4" rx="1.55" ry="1.3"/><ellipse cx="184.7" cy="315.3" rx="1.55" ry="1.3"/><ellipse cx="192.7" cy="315.3" rx="1.55" ry="1.3"/><ellipse cx="176.9" cy="318.0" rx="1.55" ry="1.3"/><ellipse cx="180.3" cy="318.5" rx="1.55" ry="1.3"/><ellipse cx="183.9" cy="319.3" rx="1.55" ry="1.3"/><ellipse cx="187.0" cy="319.8" rx="1.55" ry="1.3"/><ellipse cx="190.5" cy="319.8" rx="1.55" ry="1.3"/><ellipse cx="193.8" cy="319.1" rx="1.55" ry="1.3"/><ellipse cx="197.3" cy="318.4" rx="1.55" ry="1.3"/><ellipse cx="200.6" cy="317.8" rx="1.55" ry="1.3"/><ellipse cx="176.9" cy="323.2" rx="1.55" ry="1.3"/><ellipse cx="180.4" cy="323.9" rx="1.55" ry="1.3"/><ellipse cx="183.6" cy="324.7" rx="1.55" ry="1.3"/><ellipse cx="187.2" cy="325.4" rx="1.55" ry="1.3"/><ellipse cx="190.4" cy="325.2" rx="1.55" ry="1.3"/><ellipse cx="193.7" cy="324.7" rx="1.55" ry="1.3"/><ellipse cx="197.2" cy="323.8" rx="1.55" ry="1.3"/><ellipse cx="200.6" cy="323.4" rx="1.55" ry="1.3"/><ellipse cx="178.8" cy="325.9" rx="1.55" ry="1.3"/><ellipse cx="182.0" cy="326.8" rx="1.55" ry="1.3"/><ellipse cx="185.5" cy="327.4" rx="1.55" ry="1.3"/><ellipse cx="188.7" cy="327.9" rx="1.55" ry="1.3"/><ellipse cx="192.2" cy="327.3" rx="1.55" ry="1.3"/><ellipse cx="195.4" cy="326.8" rx="1.55" ry="1.3"/><ellipse cx="198.9" cy="326.1" rx="1.55" ry="1.3"/><ellipse cx="176.9" cy="330.3" rx="1.55" ry="1.3"/><ellipse cx="180.2" cy="330.9" rx="1.55" ry="1.3"/><ellipse cx="183.7" cy="331.3" rx="1.55" ry="1.3"/><ellipse cx="187.1" cy="332.1" rx="1.55" ry="1.3"/><ellipse cx="190.4" cy="331.9" rx="1.55" ry="1.3"/><ellipse cx="193.9" cy="331.3" rx="1.55" ry="1.3"/><ellipse cx="197.1" cy="330.7" rx="1.55" ry="1.3"/><ellipse cx="200.5" cy="330.1" rx="1.55" ry="1.3"/><ellipse cx="178.2" cy="334.9" rx="1.55" ry="1.3"/><ellipse cx="181.4" cy="335.3" rx="1.55" ry="1.3"/><ellipse cx="184.3" cy="335.7" rx="1.55" ry="1.3"/><ellipse cx="187.3" cy="336.1" rx="1.55" ry="1.3"/><ellipse cx="190.2" cy="336.1" rx="1.55" ry="1.3"/><ellipse cx="193.4" cy="335.8" rx="1.55" ry="1.3"/><ellipse cx="196.2" cy="335.4" rx="1.55" ry="1.3"/><ellipse cx="199.4" cy="334.8" rx="1.55" ry="1.3"/><ellipse cx="188.8" cy="338.6" rx="1.55" ry="1.3"/><ellipse cx="177.4" cy="341.6" rx="1.55" ry="1.3"/><ellipse cx="179.9" cy="341.7" rx="1.55" ry="1.3"/><ellipse cx="182.4" cy="341.6" rx="1.55" ry="1.3"/><ellipse cx="185.0" cy="341.7" rx="1.55" ry="1.3"/><ellipse cx="187.5" cy="341.7" rx="1.55" ry="1.3"/><ellipse cx="190.1" cy="341.6" rx="1.55" ry="1.3"/><ellipse cx="192.6" cy="341.6" rx="1.55" ry="1.3"/><ellipse cx="195.1" cy="341.5" rx="1.55" ry="1.3"/><ellipse cx="197.6" cy="341.7" rx="1.55" ry="1.3"/><ellipse cx="200.2" cy="341.5" rx="1.55" ry="1.3"/><ellipse cx="177.7" cy="345.2" rx="1.55" ry="1.3"/><ellipse cx="179.2" cy="345.0" rx="1.55" ry="1.3"/><ellipse cx="180.3" cy="344.8" rx="1.55" ry="1.3"/><ellipse cx="181.6" cy="344.8" rx="1.55" ry="1.3"/><ellipse cx="182.9" cy="344.6" rx="1.55" ry="1.3"/><ellipse cx="184.2" cy="344.7" rx="1.55" ry="1.3"/><ellipse cx="185.7" cy="344.5" rx="1.55" ry="1.3"/><ellipse cx="186.8" cy="344.5" rx="1.55" ry="1.3"/><ellipse cx="188.1" cy="344.2" rx="1.55" ry="1.3"/><ellipse cx="189.3" cy="344.2" rx="1.55" ry="1.3"/><ellipse cx="190.7" cy="344.4" rx="1.55" ry="1.3"/><ellipse cx="191.9" cy="344.5" rx="1.55" ry="1.3"/><ellipse cx="193.2" cy="344.5" rx="1.55" ry="1.3"/><ellipse cx="194.5" cy="344.6" rx="1.55" ry="1.3"/><ellipse cx="195.8" cy="344.6" rx="1.55" ry="1.3"/><ellipse cx="197.2" cy="344.8" rx="1.55" ry="1.3"/><ellipse cx="198.5" cy="345.0" rx="1.55" ry="1.3"/><ellipse cx="199.9" cy="345.1" rx="1.55" ry="1.3"/><ellipse cx="177.4" cy="348.6" rx="1.55" ry="1.3"/><ellipse cx="178.5" cy="348.6" rx="1.55" ry="1.3"/><ellipse cx="180.0" cy="348.7" rx="1.55" ry="1.3"/><ellipse cx="181.2" cy="349.0" rx="1.55" ry="1.3"/><ellipse cx="182.3" cy="349.2" rx="1.55" ry="1.3"/><ellipse cx="183.8" cy="349.3" rx="1.55" ry="1.3"/><ellipse cx="185.0" cy="349.5" rx="1.55" ry="1.3"/><ellipse cx="186.1" cy="349.6" rx="1.55" ry="1.3"/><ellipse cx="187.5" cy="349.8" rx="1.55" ry="1.3"/><ellipse cx="188.9" cy="350.0" rx="1.55" ry="1.3"/><ellipse cx="190.1" cy="349.9" rx="1.55" ry="1.3"/><ellipse cx="191.4" cy="349.7" rx="1.55" ry="1.3"/><ellipse cx="192.6" cy="349.3" rx="1.55" ry="1.3"/><ellipse cx="193.8" cy="349.2" rx="1.55" ry="1.3"/><ellipse cx="195.1" cy="349.2" rx="1.55" ry="1.3"/><ellipse cx="196.5" cy="349.0" rx="1.55" ry="1.3"/><ellipse cx="197.8" cy="348.9" rx="1.55" ry="1.3"/><ellipse cx="199.0" cy="348.5" rx="1.55" ry="1.3"/><ellipse cx="200.4" cy="348.6" rx="1.55" ry="1.3"/><ellipse cx="177.3" cy="353.3" rx="1.55" ry="1.3"/><ellipse cx="178.6" cy="353.3" rx="1.55" ry="1.3"/><ellipse cx="179.9" cy="353.6" rx="1.55" ry="1.3"/><ellipse cx="181.0" cy="353.7" rx="1.55" ry="1.3"/><ellipse cx="182.5" cy="353.8" rx="1.55" ry="1.3"/><ellipse cx="183.8" cy="354.2" rx="1.55" ry="1.3"/><ellipse cx="185.0" cy="354.2" rx="1.55" ry="1.3"/><ellipse cx="186.2" cy="354.4" rx="1.55" ry="1.3"/><ellipse cx="187.6" cy="354.6" rx="1.55" ry="1.3"/><ellipse cx="188.8" cy="354.6" rx="1.55" ry="1.3"/><ellipse cx="190.0" cy="354.5" rx="1.55" ry="1.3"/><ellipse cx="191.4" cy="354.3" rx="1.55" ry="1.3"/><ellipse cx="192.7" cy="354.1" rx="1.55" ry="1.3"/><ellipse cx="193.8" cy="354.0" rx="1.55" ry="1.3"/><ellipse cx="195.2" cy="354.0" rx="1.55" ry="1.3"/><ellipse cx="196.5" cy="353.7" rx="1.55" ry="1.3"/><ellipse cx="197.7" cy="353.6" rx="1.55" ry="1.3"/><ellipse cx="199.0" cy="353.4" rx="1.55" ry="1.3"/><ellipse cx="200.4" cy="353.2" rx="1.55" ry="1.3"/><ellipse cx="177.4" cy="358.3" rx="1.55" ry="1.3"/><ellipse cx="178.8" cy="358.3" rx="1.55" ry="1.3"/><ellipse cx="180.7" cy="358.6" rx="1.55" ry="1.3"/><ellipse cx="182.2" cy="358.6" rx="1.55" ry="1.3"/><ellipse cx="183.8" cy="358.9" rx="1.55" ry="1.3"/><ellipse cx="185.4" cy="359.0" rx="1.55" ry="1.3"/><ellipse cx="187.0" cy="359.1" rx="1.55" ry="1.3"/><ellipse cx="188.9" cy="359.2" rx="1.55" ry="1.3"/><ellipse cx="190.5" cy="359.1" rx="1.55" ry="1.3"/><ellipse cx="192.2" cy="359.0" rx="1.55" ry="1.3"/><ellipse cx="193.6" cy="358.9" rx="1.55" ry="1.3"/><ellipse cx="195.4" cy="358.5" rx="1.55" ry="1.3"/><ellipse cx="196.9" cy="358.5" rx="1.55" ry="1.3"/><ellipse cx="198.6" cy="358.3" rx="1.55" ry="1.3"/><ellipse cx="200.2" cy="358.1" rx="1.55" ry="1.3"/><ellipse cx="177.7" cy="361.0" rx="1.55" ry="1.3"/><ellipse cx="178.9" cy="361.0" rx="1.55" ry="1.3"/><ellipse cx="180.5" cy="360.9" rx="1.55" ry="1.3"/><ellipse cx="181.8" cy="361.1" rx="1.55" ry="1.3"/><ellipse cx="183.1" cy="361.0" rx="1.55" ry="1.3"/><ellipse cx="184.2" cy="361.1" rx="1.55" ry="1.3"/><ellipse cx="185.7" cy="361.3" rx="1.55" ry="1.3"/><ellipse cx="186.8" cy="361.3" rx="1.55" ry="1.3"/><ellipse cx="188.1" cy="361.2" rx="1.55" ry="1.3"/><ellipse cx="189.3" cy="361.5" rx="1.55" ry="1.3"/><ellipse cx="190.7" cy="361.4" rx="1.55" ry="1.3"/><ellipse cx="192.0" cy="361.2" rx="1.55" ry="1.3"/><ellipse cx="193.3" cy="361.1" rx="1.55" ry="1.3"/><ellipse cx="194.6" cy="361.2" rx="1.55" ry="1.3"/><ellipse cx="196.0" cy="361.1" rx="1.55" ry="1.3"/><ellipse cx="197.3" cy="361.1" rx="1.55" ry="1.3"/><ellipse cx="198.6" cy="360.9" rx="1.55" ry="1.3"/><ellipse cx="199.9" cy="360.7" rx="1.55" ry="1.3"/><ellipse cx="177.1" cy="362.1" rx="1.55" ry="1.3"/><ellipse cx="179.7" cy="362.6" rx="1.55" ry="1.3"/><ellipse cx="182.2" cy="362.8" rx="1.55" ry="1.3"/><ellipse cx="185.0" cy="363.2" rx="1.55" ry="1.3"/><ellipse cx="187.5" cy="363.7" rx="1.55" ry="1.3"/><ellipse cx="190.1" cy="363.8" rx="1.55" ry="1.3"/><ellipse cx="192.9" cy="363.2" rx="1.55" ry="1.3"/><ellipse cx="195.4" cy="362.9" rx="1.55" ry="1.3"/><ellipse cx="198.0" cy="362.5" rx="1.55" ry="1.3"/><ellipse cx="200.5" cy="362.0" rx="1.55" ry="1.3"/><ellipse cx="177.8" cy="366.6" rx="1.55" ry="1.3"/><ellipse cx="178.8" cy="366.6" rx="1.55" ry="1.3"/><ellipse cx="179.8" cy="366.6" rx="1.55" ry="1.3"/><ellipse cx="180.8" cy="366.6" rx="1.55" ry="1.3"/><ellipse cx="181.8" cy="366.6" rx="1.55" ry="1.3"/><ellipse cx="182.8" cy="366.6" rx="1.55" ry="1.3"/><ellipse cx="183.8" cy="366.6" rx="1.55" ry="1.3"/><ellipse cx="184.8" cy="366.6" rx="1.55" ry="1.3"/><ellipse cx="185.8" cy="366.6" rx="1.55" ry="1.3"/><ellipse cx="186.8" cy="366.6" rx="1.55" ry="1.3"/><ellipse cx="187.8" cy="366.6" rx="1.55" ry="1.3"/><ellipse cx="188.8" cy="366.6" rx="1.55" ry="1.3"/><ellipse cx="189.8" cy="366.6" rx="1.55" ry="1.3"/><ellipse cx="190.8" cy="366.6" rx="1.55" ry="1.3"/><ellipse cx="191.8" cy="366.6" rx="1.55" ry="1.3"/><ellipse cx="192.8" cy="366.6" rx="1.55" ry="1.3"/><ellipse cx="193.8" cy="366.6" rx="1.55" ry="1.3"/><ellipse cx="194.8" cy="366.6" rx="1.55" ry="1.3"/><ellipse cx="195.8" cy="366.6" rx="1.55" ry="1.3"/><ellipse cx="196.8" cy="366.6" rx="1.55" ry="1.3"/><ellipse cx="197.8" cy="366.6" rx="1.55" ry="1.3"/><ellipse cx="198.8" cy="366.6" rx="1.55" ry="1.3"/><ellipse cx="199.8" cy="366.6" rx="1.55" ry="1.3"/><ellipse cx="178.0" cy="367.9" rx="1.55" ry="1.3"/><ellipse cx="179.0" cy="367.9" rx="1.55" ry="1.3"/><ellipse cx="179.9" cy="367.9" rx="1.55" ry="1.3"/><ellipse cx="180.9" cy="367.9" rx="1.55" ry="1.3"/><ellipse cx="182.0" cy="367.9" rx="1.55" ry="1.3"/><ellipse cx="182.9" cy="367.9" rx="1.55" ry="1.3"/><ellipse cx="183.9" cy="367.9" rx="1.55" ry="1.3"/><ellipse cx="184.8" cy="367.9" rx="1.55" ry="1.3"/><ellipse cx="185.8" cy="367.9" rx="1.55" ry="1.3"/><ellipse cx="186.9" cy="367.9" rx="1.55" ry="1.3"/><ellipse cx="187.8" cy="367.9" rx="1.55" ry="1.3"/><ellipse cx="188.8" cy="367.9" rx="1.55" ry="1.3"/><ellipse cx="189.7" cy="367.9" rx="1.55" ry="1.3"/><ellipse cx="190.8" cy="367.9" rx="1.55" ry="1.3"/><ellipse cx="191.7" cy="367.9" rx="1.55" ry="1.3"/><ellipse cx="192.7" cy="367.9" rx="1.55" ry="1.3"/><ellipse cx="193.7" cy="367.9" rx="1.55" ry="1.3"/><ellipse cx="194.7" cy="367.9" rx="1.55" ry="1.3"/><ellipse cx="195.7" cy="367.9" rx="1.55" ry="1.3"/><ellipse cx="196.6" cy="367.9" rx="1.55" ry="1.3"/><ellipse cx="197.7" cy="367.9" rx="1.55" ry="1.3"/><ellipse cx="198.6" cy="367.9" rx="1.55" ry="1.3"/><ellipse cx="199.6" cy="367.9" rx="1.55" ry="1.3"/><ellipse cx="184.7" cy="371.7" rx="1.55" ry="1.3"/><ellipse cx="188.8" cy="371.7" rx="1.55" ry="1.3"/><ellipse cx="192.7" cy="371.7" rx="1.55" ry="1.3"/><ellipse cx="179.0" cy="377.0" rx="1.55" ry="1.3"/><ellipse cx="180.0" cy="377.0" rx="1.55" ry="1.3"/><ellipse cx="181.0" cy="377.0" rx="1.55" ry="1.3"/><ellipse cx="182.0" cy="377.0" rx="1.55" ry="1.3"/><ellipse cx="183.0" cy="377.0" rx="1.55" ry="1.3"/><ellipse cx="184.0" cy="377.0" rx="1.55" ry="1.3"/><ellipse cx="185.0" cy="377.0" rx="1.55" ry="1.3"/><ellipse cx="186.0" cy="377.0" rx="1.55" ry="1.3"/><ellipse cx="187.0" cy="377.0" rx="1.55" ry="1.3"/><ellipse cx="188.0" cy="377.0" rx="1.55" ry="1.3"/><ellipse cx="189.0" cy="377.0" rx="1.55" ry="1.3"/><ellipse cx="190.0" cy="377.0" rx="1.55" ry="1.3"/><ellipse cx="191.0" cy="377.0" rx="1.55" ry="1.3"/><ellipse cx="192.0" cy="377.0" rx="1.55" ry="1.3"/><ellipse cx="193.0" cy="377.0" rx="1.55" ry="1.3"/><ellipse cx="194.0" cy="377.0" rx="1.55" ry="1.3"/><ellipse cx="195.0" cy="377.0" rx="1.55" ry="1.3"/><ellipse cx="196.0" cy="377.0" rx="1.55" ry="1.3"/><ellipse cx="197.0" cy="377.0" rx="1.55" ry="1.3"/><ellipse cx="198.0" cy="377.0" rx="1.55" ry="1.3"/><ellipse cx="199.0" cy="377.0" rx="1.55" ry="1.3"/><ellipse cx="227.8" cy="307.0" rx="1.55" ry="1.3"/><ellipse cx="227.8" cy="319.7" rx="1.55" ry="1.3"/><ellipse cx="227.8" cy="324.0" rx="1.55" ry="1.3"/><ellipse cx="222.4" cy="327.8" rx="1.55" ry="1.3"/><ellipse cx="234.0" cy="327.8" rx="1.55" ry="1.3"/><ellipse cx="225.6" cy="331.4" rx="1.55" ry="1.3"/><ellipse cx="230.7" cy="331.8" rx="1.55" ry="1.3"/><ellipse cx="223.7" cy="335.8" rx="1.55" ry="1.3"/><ellipse cx="232.3" cy="333.8" rx="1.55" ry="1.3"/><ellipse cx="222.0" cy="338.5" rx="1.55" ry="1.3"/><ellipse cx="226.0" cy="339.3" rx="1.55" ry="1.3"/><ellipse cx="229.7" cy="341.2" rx="1.55" ry="1.3"/><ellipse cx="234.0" cy="338.3" rx="1.55" ry="1.3"/><ellipse cx="227.8" cy="357.9" rx="1.55" ry="1.3"/></g>
<line x1="51.30" y1="24.70" x2="51.30" y2="149.60" stroke="#000" stroke-width="1.1" /><line x1="50.80" y1="149.10" x2="234.00" y2="149.10" stroke="#000" stroke-width="1.1" /><line x1="48.10" y1="149.10" x2="51.30" y2="149.10" stroke="#000" stroke-width="1" /><text x="45.30" y="152.05" font-size="8.3" text-anchor="end" font-weight="normal" fill="#141414">0</text><line x1="49.80" y1="143.04" x2="51.30" y2="143.04" stroke="#000" stroke-width="0.9" /><line x1="49.80" y1="136.98" x2="51.30" y2="136.98" stroke="#000" stroke-width="0.9" /><line x1="49.80" y1="130.92" x2="51.30" y2="130.92" stroke="#000" stroke-width="0.9" /><line x1="49.80" y1="124.86" x2="51.30" y2="124.86" stroke="#000" stroke-width="0.9" /><line x1="48.10" y1="118.80" x2="51.30" y2="118.80" stroke="#000" stroke-width="1" /><text x="45.30" y="121.75" font-size="8.3" text-anchor="end" font-weight="normal" fill="#141414">50</text><line x1="49.80" y1="112.74" x2="51.30" y2="112.74" stroke="#000" stroke-width="0.9" /><line x1="49.80" y1="106.68" x2="51.30" y2="106.68" stroke="#000" stroke-width="0.9" /><line x1="49.80" y1="100.62" x2="51.30" y2="100.62" stroke="#000" stroke-width="0.9" /><line x1="49.80" y1="94.56" x2="51.30" y2="94.56" stroke="#000" stroke-width="0.9" /><line x1="48.10" y1="88.50" x2="51.30" y2="88.50" stroke="#000" stroke-width="1" /><text x="45.30" y="91.45" font-size="8.3" text-anchor="end" font-weight="normal" fill="#141414">100</text><line x1="49.80" y1="82.44" x2="51.30" y2="82.44" stroke="#000" stroke-width="0.9" /><line x1="49.80" y1="76.38" x2="51.30" y2="76.38" stroke="#000" stroke-width="0.9" /><line x1="49.80" y1="70.32" x2="51.30" y2="70.32" stroke="#000" stroke-width="0.9" /><line x1="49.80" y1="64.26" x2="51.30" y2="64.26" stroke="#000" stroke-width="0.9" /><line x1="48.10" y1="58.20" x2="51.30" y2="58.20" stroke="#000" stroke-width="1" /><text x="45.30" y="61.15" font-size="8.3" text-anchor="end" font-weight="normal" fill="#141414">150</text><line x1="49.80" y1="52.14" x2="51.30" y2="52.14" stroke="#000" stroke-width="0.9" /><line x1="49.80" y1="46.08" x2="51.30" y2="46.08" stroke="#000" stroke-width="0.9" /><line x1="49.80" y1="40.02" x2="51.30" y2="40.02" stroke="#000" stroke-width="0.9" /><line x1="49.80" y1="33.96" x2="51.30" y2="33.96" stroke="#000" stroke-width="0.9" /><line x1="48.10" y1="27.90" x2="51.30" y2="27.90" stroke="#000" stroke-width="1" /><text x="45.30" y="30.85" font-size="8.3" text-anchor="end" font-weight="normal" fill="#141414">200</text><line x1="69.60" y1="149.10" x2="69.60" y2="151.80" stroke="#000" stroke-width="1" /><text x="69.60" y="162.60" font-size="8.2" text-anchor="middle" font-weight="normal" fill="#1a1a1a">Fr-WBf</text><line x1="106.00" y1="149.10" x2="106.00" y2="151.80" stroke="#000" stroke-width="1" /><text x="106.00" y="162.60" font-size="8.2" text-anchor="middle" font-weight="normal" fill="#1a1a1a">M-WBf</text><line x1="142.30" y1="149.10" x2="142.30" y2="151.80" stroke="#000" stroke-width="1" /><text x="142.30" y="162.60" font-size="8.2" text-anchor="middle" font-weight="normal" fill="#1a1a1a">Fe-WBf</text><line x1="179.00" y1="149.10" x2="179.00" y2="151.80" stroke="#000" stroke-width="1" /><text x="179.00" y="162.60" font-size="8.2" text-anchor="middle" font-weight="normal" fill="#1a1a1a">Fe-RBCf</text><line x1="215.50" y1="149.10" x2="215.50" y2="151.80" stroke="#000" stroke-width="1" /><text x="215.50" y="162.60" font-size="8.2" text-anchor="middle" font-weight="normal" fill="#1a1a1a">M-RBCf</text><line x1="69.80" y1="80.60" x2="69.80" y2="141.60" stroke="#5a6466" stroke-width="1.6" /><line x1="64.20" y1="80.60" x2="74.80" y2="80.60" stroke="#5a6466" stroke-width="1.4" /><line x1="63.80" y1="141.60" x2="75.20" y2="141.60" stroke="#555" stroke-width="1.3" /><line x1="58.00" y1="110.80" x2="82.00" y2="110.80" stroke="#111" stroke-width="1.3" /><line x1="100.00" y1="148.20" x2="111.50" y2="148.20" stroke="#000" stroke-width="1.6" /><line x1="167.00" y1="148.20" x2="190.80" y2="148.20" stroke="#000" stroke-width="1.4" /><line x1="204.60" y1="148.20" x2="227.70" y2="148.20" stroke="#000" stroke-width="1.4" /><line x1="133.00" y1="148.20" x2="152.00" y2="148.20" stroke="#000" stroke-width="1.2" /><text transform="translate(25.4,88.3) rotate(-90) scale(0.685,1)" font-size="9.9" stroke="#000" stroke-width="0.25" text-anchor="middle">PLT (10<tspan font-size="6.8" dx="0.5" dy="-3.9" stroke-width="0.2">9</tspan><tspan dx="0.8" dy="3.9">/L)</tspan></text><line x1="298.80" y1="23.80" x2="298.80" y2="150.00" stroke="#000" stroke-width="1.1" /><line x1="298.30" y1="149.50" x2="485.50" y2="149.50" stroke="#000" stroke-width="1.1" /><line x1="296.00" y1="149.50" x2="298.80" y2="149.50" stroke="#000" stroke-width="1" /><text x="292.90" y="152.45" font-size="8.3" text-anchor="end" font-weight="normal" fill="#141414">1</text><line x1="297.30" y1="142.09" x2="298.80" y2="142.09" stroke="#000" stroke-width="0.8" /><line x1="297.30" y1="137.76" x2="298.80" y2="137.76" stroke="#000" stroke-width="0.8" /><line x1="297.30" y1="134.69" x2="298.80" y2="134.69" stroke="#000" stroke-width="0.8" /><line x1="297.30" y1="132.31" x2="298.80" y2="132.31" stroke="#000" stroke-width="0.8" /><line x1="297.30" y1="130.36" x2="298.80" y2="130.36" stroke="#000" stroke-width="0.8" /><line x1="297.30" y1="128.71" x2="298.80" y2="128.71" stroke="#000" stroke-width="0.8" /><line x1="297.30" y1="127.28" x2="298.80" y2="127.28" stroke="#000" stroke-width="0.8" /><line x1="297.30" y1="126.03" x2="298.80" y2="126.03" stroke="#000" stroke-width="0.8" /><line x1="296.00" y1="124.90" x2="298.80" y2="124.90" stroke="#000" stroke-width="1" /><text x="292.90" y="127.85" font-size="8.3" text-anchor="end" font-weight="normal" fill="#141414">10</text><line x1="297.30" y1="117.49" x2="298.80" y2="117.49" stroke="#000" stroke-width="0.8" /><line x1="297.30" y1="113.16" x2="298.80" y2="113.16" stroke="#000" stroke-width="0.8" /><line x1="297.30" y1="110.09" x2="298.80" y2="110.09" stroke="#000" stroke-width="0.8" /><line x1="297.30" y1="107.71" x2="298.80" y2="107.71" stroke="#000" stroke-width="0.8" /><line x1="297.30" y1="105.76" x2="298.80" y2="105.76" stroke="#000" stroke-width="0.8" /><line x1="297.30" y1="104.11" x2="298.80" y2="104.11" stroke="#000" stroke-width="0.8" /><line x1="297.30" y1="102.68" x2="298.80" y2="102.68" stroke="#000" stroke-width="0.8" /><line x1="297.30" y1="101.43" x2="298.80" y2="101.43" stroke="#000" stroke-width="0.8" /><line x1="296.00" y1="100.30" x2="298.80" y2="100.30" stroke="#000" stroke-width="1" /><text x="292.90" y="103.25" font-size="8.3" text-anchor="end" font-weight="normal" fill="#141414">100</text><line x1="297.30" y1="92.89" x2="298.80" y2="92.89" stroke="#000" stroke-width="0.8" /><line x1="297.30" y1="88.56" x2="298.80" y2="88.56" stroke="#000" stroke-width="0.8" /><line x1="297.30" y1="85.49" x2="298.80" y2="85.49" stroke="#000" stroke-width="0.8" /><line x1="297.30" y1="83.11" x2="298.80" y2="83.11" stroke="#000" stroke-width="0.8" /><line x1="297.30" y1="81.16" x2="298.80" y2="81.16" stroke="#000" stroke-width="0.8" /><line x1="297.30" y1="79.51" x2="298.80" y2="79.51" stroke="#000" stroke-width="0.8" /><line x1="297.30" y1="78.08" x2="298.80" y2="78.08" stroke="#000" stroke-width="0.8" /><line x1="297.30" y1="76.83" x2="298.80" y2="76.83" stroke="#000" stroke-width="0.8" /><line x1="296.00" y1="75.70" x2="298.80" y2="75.70" stroke="#000" stroke-width="1" /><text x="292.90" y="78.65" font-size="8.3" text-anchor="end" font-weight="normal" fill="#141414">1000</text><line x1="297.30" y1="68.29" x2="298.80" y2="68.29" stroke="#000" stroke-width="0.8" /><line x1="297.30" y1="63.96" x2="298.80" y2="63.96" stroke="#000" stroke-width="0.8" /><line x1="297.30" y1="60.89" x2="298.80" y2="60.89" stroke="#000" stroke-width="0.8" /><line x1="297.30" y1="58.51" x2="298.80" y2="58.51" stroke="#000" stroke-width="0.8" /><line x1="297.30" y1="56.56" x2="298.80" y2="56.56" stroke="#000" stroke-width="0.8" /><line x1="297.30" y1="54.91" x2="298.80" y2="54.91" stroke="#000" stroke-width="0.8" /><line x1="297.30" y1="53.48" x2="298.80" y2="53.48" stroke="#000" stroke-width="0.8" /><line x1="297.30" y1="52.23" x2="298.80" y2="52.23" stroke="#000" stroke-width="0.8" /><line x1="296.00" y1="51.10" x2="298.80" y2="51.10" stroke="#000" stroke-width="1" /><text x="292.90" y="54.05" font-size="8.3" text-anchor="end" font-weight="normal" fill="#141414">10000</text><line x1="297.30" y1="43.69" x2="298.80" y2="43.69" stroke="#000" stroke-width="0.8" /><line x1="297.30" y1="39.36" x2="298.80" y2="39.36" stroke="#000" stroke-width="0.8" /><line x1="297.30" y1="36.29" x2="298.80" y2="36.29" stroke="#000" stroke-width="0.8" /><line x1="297.30" y1="33.91" x2="298.80" y2="33.91" stroke="#000" stroke-width="0.8" /><line x1="297.30" y1="31.96" x2="298.80" y2="31.96" stroke="#000" stroke-width="0.8" /><line x1="297.30" y1="30.31" x2="298.80" y2="30.31" stroke="#000" stroke-width="0.8" /><line x1="297.30" y1="28.88" x2="298.80" y2="28.88" stroke="#000" stroke-width="0.8" /><line x1="297.30" y1="27.63" x2="298.80" y2="27.63" stroke="#000" stroke-width="0.8" /><line x1="296.00" y1="26.50" x2="298.80" y2="26.50" stroke="#000" stroke-width="1" /><text x="292.90" y="29.45" font-size="8.3" text-anchor="end" font-weight="normal" fill="#141414">100000</text><line x1="299.00" y1="149.50" x2="299.00" y2="152.30" stroke="#000" stroke-width="1" /><text x="299.00" y="162.60" font-size="8.3" text-anchor="middle" font-weight="normal" fill="#141414">0.1</text><line x1="312.85" y1="149.50" x2="312.85" y2="151.10" stroke="#000" stroke-width="0.8" /><line x1="320.95" y1="149.50" x2="320.95" y2="151.10" stroke="#000" stroke-width="0.8" /><line x1="326.69" y1="149.50" x2="326.69" y2="151.10" stroke="#000" stroke-width="0.8" /><line x1="331.15" y1="149.50" x2="331.15" y2="151.10" stroke="#000" stroke-width="0.8" /><line x1="334.79" y1="149.50" x2="334.79" y2="151.10" stroke="#000" stroke-width="0.8" /><line x1="337.87" y1="149.50" x2="337.87" y2="151.10" stroke="#000" stroke-width="0.8" /><line x1="340.54" y1="149.50" x2="340.54" y2="151.10" stroke="#000" stroke-width="0.8" /><line x1="342.90" y1="149.50" x2="342.90" y2="151.10" stroke="#000" stroke-width="0.8" /><line x1="345.00" y1="149.50" x2="345.00" y2="152.30" stroke="#000" stroke-width="1" /><text x="345.00" y="162.60" font-size="8.3" text-anchor="middle" font-weight="normal" fill="#141414">1</text><line x1="358.85" y1="149.50" x2="358.85" y2="151.10" stroke="#000" stroke-width="0.8" /><line x1="366.95" y1="149.50" x2="366.95" y2="151.10" stroke="#000" stroke-width="0.8" /><line x1="372.69" y1="149.50" x2="372.69" y2="151.10" stroke="#000" stroke-width="0.8" /><line x1="377.15" y1="149.50" x2="377.15" y2="151.10" stroke="#000" stroke-width="0.8" /><line x1="380.79" y1="149.50" x2="380.79" y2="151.10" stroke="#000" stroke-width="0.8" /><line x1="383.87" y1="149.50" x2="383.87" y2="151.10" stroke="#000" stroke-width="0.8" /><line x1="386.54" y1="149.50" x2="386.54" y2="151.10" stroke="#000" stroke-width="0.8" /><line x1="388.90" y1="149.50" x2="388.90" y2="151.10" stroke="#000" stroke-width="0.8" /><line x1="391.00" y1="149.50" x2="391.00" y2="152.30" stroke="#000" stroke-width="1" /><text x="391.00" y="162.60" font-size="8.3" text-anchor="middle" font-weight="normal" fill="#141414">10</text><line x1="404.85" y1="149.50" x2="404.85" y2="151.10" stroke="#000" stroke-width="0.8" /><line x1="412.95" y1="149.50" x2="412.95" y2="151.10" stroke="#000" stroke-width="0.8" /><line x1="418.69" y1="149.50" x2="418.69" y2="151.10" stroke="#000" stroke-width="0.8" /><line x1="423.15" y1="149.50" x2="423.15" y2="151.10" stroke="#000" stroke-width="0.8" /><line x1="426.79" y1="149.50" x2="426.79" y2="151.10" stroke="#000" stroke-width="0.8" /><line x1="429.87" y1="149.50" x2="429.87" y2="151.10" stroke="#000" stroke-width="0.8" /><line x1="432.54" y1="149.50" x2="432.54" y2="151.10" stroke="#000" stroke-width="0.8" /><line x1="434.90" y1="149.50" x2="434.90" y2="151.10" stroke="#000" stroke-width="0.8" /><line x1="437.00" y1="149.50" x2="437.00" y2="152.30" stroke="#000" stroke-width="1" /><text x="437.00" y="162.60" font-size="8.3" text-anchor="middle" font-weight="normal" fill="#141414">100</text><line x1="450.85" y1="149.50" x2="450.85" y2="151.10" stroke="#000" stroke-width="0.8" /><line x1="458.95" y1="149.50" x2="458.95" y2="151.10" stroke="#000" stroke-width="0.8" /><line x1="464.69" y1="149.50" x2="464.69" y2="151.10" stroke="#000" stroke-width="0.8" /><line x1="469.15" y1="149.50" x2="469.15" y2="151.10" stroke="#000" stroke-width="0.8" /><line x1="472.79" y1="149.50" x2="472.79" y2="151.10" stroke="#000" stroke-width="0.8" /><line x1="475.87" y1="149.50" x2="475.87" y2="151.10" stroke="#000" stroke-width="0.8" /><line x1="478.54" y1="149.50" x2="478.54" y2="151.10" stroke="#000" stroke-width="0.8" /><line x1="480.90" y1="149.50" x2="480.90" y2="151.10" stroke="#000" stroke-width="0.8" /><line x1="483.00" y1="149.50" x2="483.00" y2="152.30" stroke="#000" stroke-width="1" /><text x="483.00" y="162.60" font-size="8.3" text-anchor="middle" font-weight="normal" fill="#141414">1000</text><text transform="translate(258.0,86.1) rotate(-90) scale(0.725,1)" font-size="9.7" stroke="#000" stroke-width="0.2" text-anchor="middle">PEVs/µL</text><text transform="translate(392.5,175.9) scale(0.80,1)" font-size="9.0" stroke="#000" stroke-width="0.22" text-anchor="middle">PLT (10<tspan font-size="6.4" dx="0.3" dy="-3.6" stroke-width="0.2">3</tspan><tspan dx="0.5" dy="3.6">/µl)</tspan></text><rect x="462.8" y="37.9" width="49.6" height="27.1" fill="none" stroke="#333" stroke-width="1"/><text x="470" y="48.9" font-size="8.4">R<tspan font-size="5.2" dy="-3">2</tspan><tspan dy="3">=0,33</tspan></text><text x="470.00" y="58.90" font-size="8.4" text-anchor="start" font-weight="normal" fill="#141414">P&lt;0,0001</text><line x1="345.00" y1="100.50" x2="451.00" y2="45.70" stroke="#000" stroke-width="1.25" /><path d="M345,90.9 C358,88 374,83 388,77.2 L405,69.4 L451,45.2" fill="none" stroke="#222" stroke-width="0.8" stroke-dasharray="1.1,1.1"/><path d="M370,96 C380,89 392,80.5 405,72.3 L420,62.6 L451,46.5" fill="none" stroke="#222" stroke-width="0.8" stroke-dasharray="1.1,1.1"/><line x1="51.50" y1="244.00" x2="51.50" y2="378.00" stroke="#000" stroke-width="1.1" /><line x1="51.00" y1="377.50" x2="248.00" y2="377.50" stroke="#000" stroke-width="1.1" /><line x1="48.00" y1="377.50" x2="51.50" y2="377.50" stroke="#000" stroke-width="1" /><text x="45.10" y="380.45" font-size="8.3" text-anchor="end" font-weight="normal" fill="#141414">1</text><line x1="49.90" y1="367.66" x2="51.50" y2="367.66" stroke="#000" stroke-width="0.8" /><line x1="49.90" y1="361.90" x2="51.50" y2="361.90" stroke="#000" stroke-width="0.8" /><line x1="49.90" y1="357.81" x2="51.50" y2="357.81" stroke="#000" stroke-width="0.8" /><line x1="49.90" y1="354.64" x2="51.50" y2="354.64" stroke="#000" stroke-width="0.8" /><line x1="49.90" y1="352.05" x2="51.50" y2="352.05" stroke="#000" stroke-width="0.8" /><line x1="49.90" y1="349.87" x2="51.50" y2="349.87" stroke="#000" stroke-width="0.8" /><line x1="49.90" y1="347.97" x2="51.50" y2="347.97" stroke="#000" stroke-width="0.8" /><line x1="49.90" y1="346.30" x2="51.50" y2="346.30" stroke="#000" stroke-width="0.8" /><line x1="48.00" y1="344.80" x2="51.50" y2="344.80" stroke="#000" stroke-width="1" /><text x="45.10" y="347.75" font-size="8.3" text-anchor="end" font-weight="normal" fill="#141414">10</text><line x1="49.90" y1="334.96" x2="51.50" y2="334.96" stroke="#000" stroke-width="0.8" /><line x1="49.90" y1="329.20" x2="51.50" y2="329.20" stroke="#000" stroke-width="0.8" /><line x1="49.90" y1="325.11" x2="51.50" y2="325.11" stroke="#000" stroke-width="0.8" /><line x1="49.90" y1="321.94" x2="51.50" y2="321.94" stroke="#000" stroke-width="0.8" /><line x1="49.90" y1="319.35" x2="51.50" y2="319.35" stroke="#000" stroke-width="0.8" /><line x1="49.90" y1="317.17" x2="51.50" y2="317.17" stroke="#000" stroke-width="0.8" /><line x1="49.90" y1="315.27" x2="51.50" y2="315.27" stroke="#000" stroke-width="0.8" /><line x1="49.90" y1="313.60" x2="51.50" y2="313.60" stroke="#000" stroke-width="0.8" /><line x1="48.00" y1="312.10" x2="51.50" y2="312.10" stroke="#000" stroke-width="1" /><text x="45.10" y="315.05" font-size="8.3" text-anchor="end" font-weight="normal" fill="#141414">100</text><line x1="49.90" y1="302.26" x2="51.50" y2="302.26" stroke="#000" stroke-width="0.8" /><line x1="49.90" y1="296.50" x2="51.50" y2="296.50" stroke="#000" stroke-width="0.8" /><line x1="49.90" y1="292.41" x2="51.50" y2="292.41" stroke="#000" stroke-width="0.8" /><line x1="49.90" y1="289.24" x2="51.50" y2="289.24" stroke="#000" stroke-width="0.8" /><line x1="49.90" y1="286.65" x2="51.50" y2="286.65" stroke="#000" stroke-width="0.8" /><line x1="49.90" y1="284.47" x2="51.50" y2="284.47" stroke="#000" stroke-width="0.8" /><line x1="49.90" y1="282.57" x2="51.50" y2="282.57" stroke="#000" stroke-width="0.8" /><line x1="49.90" y1="280.90" x2="51.50" y2="280.90" stroke="#000" stroke-width="0.8" /><line x1="48.00" y1="279.40" x2="51.50" y2="279.40" stroke="#000" stroke-width="1" /><text x="45.10" y="282.35" font-size="8.3" text-anchor="end" font-weight="normal" fill="#141414">1000</text><line x1="49.90" y1="269.56" x2="51.50" y2="269.56" stroke="#000" stroke-width="0.8" /><line x1="49.90" y1="263.80" x2="51.50" y2="263.80" stroke="#000" stroke-width="0.8" /><line x1="49.90" y1="259.71" x2="51.50" y2="259.71" stroke="#000" stroke-width="0.8" /><line x1="49.90" y1="256.54" x2="51.50" y2="256.54" stroke="#000" stroke-width="0.8" /><line x1="49.90" y1="253.95" x2="51.50" y2="253.95" stroke="#000" stroke-width="0.8" /><line x1="49.90" y1="251.77" x2="51.50" y2="251.77" stroke="#000" stroke-width="0.8" /><line x1="49.90" y1="249.87" x2="51.50" y2="249.87" stroke="#000" stroke-width="0.8" /><line x1="49.90" y1="248.20" x2="51.50" y2="248.20" stroke="#000" stroke-width="0.8" /><line x1="48.00" y1="246.70" x2="51.50" y2="246.70" stroke="#000" stroke-width="1" /><text x="45.10" y="249.65" font-size="8.3" text-anchor="end" font-weight="normal" fill="#141414">10000</text><line x1="71.00" y1="377.50" x2="71.00" y2="380.20" stroke="#000" stroke-width="1" /><text x="71.00" y="391.00" font-size="8.2" text-anchor="middle" font-weight="normal" fill="#1a1a1a">Fr-WBf</text><line x1="110.50" y1="377.50" x2="110.50" y2="380.20" stroke="#000" stroke-width="1" /><text x="110.50" y="391.00" font-size="8.2" text-anchor="middle" font-weight="normal" fill="#1a1a1a">M-WBf</text><line x1="149.60" y1="377.50" x2="149.60" y2="380.20" stroke="#000" stroke-width="1" /><text x="149.60" y="391.00" font-size="8.2" text-anchor="middle" font-weight="normal" fill="#1a1a1a">Fe-WBf</text><line x1="188.80" y1="377.50" x2="188.80" y2="380.20" stroke="#000" stroke-width="1" /><text x="188.80" y="391.00" font-size="8.2" text-anchor="middle" font-weight="normal" fill="#1a1a1a">Fe-RBCf</text><line x1="227.80" y1="377.50" x2="227.80" y2="380.20" stroke="#000" stroke-width="1" /><text x="227.80" y="391.00" font-size="8.2" text-anchor="middle" font-weight="normal" fill="#1a1a1a">M-RBCf</text><text transform="translate(15.5,310.6) rotate(-90) scale(0.73,1)" font-size="9.7" stroke="#000" stroke-width="0.2" text-anchor="middle">PEVs/µL</text><path d="M71.2,201.0 V198.4 H188 V201.0" fill="none" stroke="#222" stroke-width="1.1"/><circle cx="126.55" cy="196.40" r="0.8" fill="#111"/><circle cx="129.50" cy="196.40" r="0.8" fill="#111"/><circle cx="132.45" cy="196.40" r="0.8" fill="#111"/><path d="M71.2,214.0 V211.4 H150 V214.0" fill="none" stroke="#222" stroke-width="1.1"/><circle cx="107.65" cy="209.40" r="0.8" fill="#111"/><circle cx="110.60" cy="209.40" r="0.8" fill="#111"/><circle cx="113.55" cy="209.40" r="0.8" fill="#111"/><path d="M112,227.9 V225.3 H149.7 V227.9" fill="none" stroke="#222" stroke-width="1.1"/><circle cx="127.55" cy="223.30" r="0.8" fill="#111"/><circle cx="130.50" cy="223.30" r="0.8" fill="#111"/><circle cx="133.45" cy="223.30" r="0.8" fill="#111"/><path d="M111.3,238.6 V236.0 H189.5 V238.6" fill="none" stroke="#222" stroke-width="1.1"/><circle cx="149.18" cy="234.00" r="0.8" fill="#111"/><circle cx="152.12" cy="234.00" r="0.8" fill="#111"/><path d="M149.7,250.1 V247.5 H189 V250.1" fill="none" stroke="#222" stroke-width="1.1"/><circle cx="166.55" cy="245.50" r="0.8" fill="#111"/><circle cx="169.50" cy="245.50" r="0.8" fill="#111"/><circle cx="172.45" cy="245.50" r="0.8" fill="#111"/><path d="M188,257.8 V255.2 H227.2 V257.8" fill="none" stroke="#222" stroke-width="1.1"/><circle cx="204.85" cy="253.20" r="0.8" fill="#111"/><circle cx="207.80" cy="253.20" r="0.8" fill="#111"/><circle cx="210.75" cy="253.20" r="0.8" fill="#111"/><line x1="71.00" y1="295.20" x2="71.00" y2="377.50" stroke="#8c96a8" stroke-width="1.8" /><line x1="64.60" y1="295.20" x2="77.60" y2="295.20" stroke="#8c96a8" stroke-width="1.3" /><line x1="64.60" y1="377.50" x2="77.60" y2="377.50" stroke="#8c96a8" stroke-width="1.3" /><line x1="58.00" y1="305.30" x2="83.90" y2="305.30" stroke="#111" stroke-width="1.4" /><line x1="110.50" y1="331.60" x2="110.50" y2="352.00" stroke="#111" stroke-width="1.2" /><line x1="104.00" y1="331.60" x2="117.00" y2="331.60" stroke="#111" stroke-width="1.3" /><line x1="104.00" y1="352.00" x2="117.00" y2="352.00" stroke="#111" stroke-width="1.3" /><line x1="97.20" y1="338.30" x2="123.20" y2="338.30" stroke="#111" stroke-width="1.4" /><line x1="149.60" y1="289.80" x2="149.60" y2="377.50" stroke="#111" stroke-width="1.3" /><line x1="143.20" y1="289.80" x2="156.20" y2="289.80" stroke="#111" stroke-width="1.4" /><line x1="137.00" y1="315.80" x2="163.00" y2="315.80" stroke="#111" stroke-width="1.5" /><line x1="188.80" y1="303.80" x2="188.80" y2="377.50" stroke="#333" stroke-width="1.4" /><line x1="182.50" y1="303.80" x2="195.60" y2="303.80" stroke="#555" stroke-width="1.5" /><line x1="175.70" y1="334.20" x2="202.40" y2="334.20" stroke="#111" stroke-width="1.5" /><line x1="227.80" y1="317.50" x2="227.80" y2="377.50" stroke="#222" stroke-width="1.3" /><line x1="222.00" y1="317.50" x2="234.20" y2="317.50" stroke="#222" stroke-width="1.4" /><line x1="215.40" y1="327.80" x2="241.00" y2="327.80" stroke="#111" stroke-width="1.5" /><text x="7.30" y="15.70" font-size="12" text-anchor="start" font-weight="bold" stroke="#000" stroke-width="0.4">A</text><text x="250.00" y="15.60" font-size="12" text-anchor="start" font-weight="bold" stroke="#000" stroke-width="0.4">B</text>
<rect x="0.5" y="0.5" width="519" height="397" fill="none" stroke="#000" stroke-width="1.2"/>
</svg>
</body></html>
